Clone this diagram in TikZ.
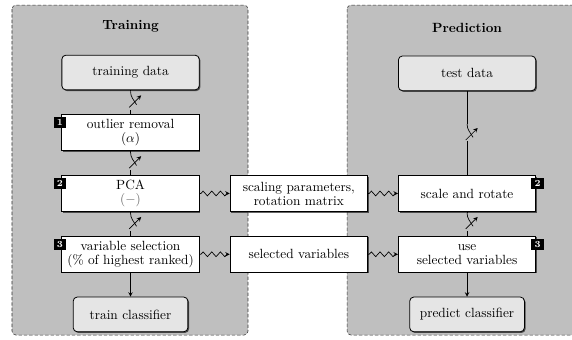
\documentclass[tikz,border=0pt]{standalone}
\usepackage{amsmath}
\usetikzlibrary{positioning, arrows, shadows, decorations.pathmorphing, backgrounds}
\tikzset{
    >=stealth, % small bold arrow heads
    every node/.style={font=\fontsize{10}{10.5}\selectfont},
    panel/.style={draw=black!80, dash pattern=on 2.5pt off 1.5pt, rounded corners=3pt, fill=gray!50},
    stepbox/.style={draw, line width=0.6pt, fill=white, minimum width=103pt, minimum height=27pt,
        inner sep=1pt, align=center,
        drop shadow={shadow xshift=0.9pt, shadow yshift=-0.9pt, fill=black, opacity=.6}},
    databox/.style={stepbox, rounded corners=3pt, fill=gray!20, minimum height=26pt},
    badge/.style={fill=black, text=white, font=\scriptsize\bfseries, inner sep=0pt,
        minimum width=9.5pt, minimum height=8.2pt},
    title/.style={font=\bfseries, inner sep=0pt},
    wiggle/.style={->, decorate, decoration={zigzag, amplitude=1.8pt, segment length=6.5pt,
        pre=lineto, pre length=1pt, post=lineto, post length=2pt}},
    lever/.pic={
        \draw (0,0) to[out=-90,in=120] (4.5pt,-10pt);
        \draw[->] (-1pt,-12pt) -- (8pt,-3pt);
    },
}

\begin{document}
\begin{tikzpicture}[line width=0.5pt]
    \clip (-97.9pt,54.4pt) rectangle (331.1pt,-199.9pt);

    % training column
    \node[databox] (trd) {training data};
    \node[stepbox, below=18pt of trd] (olr) {outlier removal\\($\alpha$)};
    \node[stepbox, below=18pt of olr] (pca) {PCA\\{\color{black!60}($-$)}};
    \node[stepbox, below=18pt of pca] (vs) {variable selection\\(\% of highest ranked)};
    \node[databox, minimum width=86pt, below=18pt of vs] (tc) {train classifier};
    \node[title, above=17pt of trd] (ttr) {Training};

    % shared results
    \node[stepbox, right=22.6pt of pca] (sp) {scaling parameters,\\rotation matrix};
    \node[stepbox, right=22.6pt of vs] (sv) {selected variables};

    % prediction column
    \node[stepbox, right=22.6pt of sp] (sr) {scale and rotate};
    \node[stepbox, right=22.6pt of sv] (usv) {use\\selected variables};
    \node[databox, above=63pt of sr] (tsd) {test data};
    \node[databox, minimum width=86pt, below=18pt of usv] (pc) {predict classifier};
    \node[title, above=17pt of tsd] (tpr) {Prediction};

    % step numbers
    \node[badge] (b1) at ([xshift=-1.1pt,yshift=-6.4pt]olr.north west) {1};
    \node[badge] (b2) at ([xshift=-1.1pt,yshift=-6.4pt]pca.north west) {2};
    \node[badge] (b3) at ([xshift=-1.1pt,yshift=-6.4pt]vs.north west) {3};
    \node[badge] (b4) at ([xshift=1.1pt,yshift=-6.4pt]sr.north east) {2};
    \node[badge] (b5) at ([xshift=1.1pt,yshift=-6.4pt]usv.north east) {3};

    \draw (trd.south) -- ++(0,-0.8pt) pic{lever} (olr.north) -- ++(0,3.5pt);
    \draw (olr.south) -- ++(0,-0.8pt) pic{lever} (pca.north) -- ++(0,3.5pt);
    \draw (pca.south) -- ++(0,-0.8pt) pic{lever} (vs.north) -- ++(0,3.5pt);
    \draw[->] (vs) -- (tc);

    \draw (tsd.south) -- ++(0,-24.7pt) pic{lever} (sr.north) -- ++(0,25.5pt);
    \draw (sr.south) -- ++(0,-0.8pt) pic{lever} (usv.north) -- ++(0,3.5pt);
    \draw[->] (usv) -- (pc);

    \draw[wiggle] (pca) -- (sp);
    \draw[wiggle] (sp) -- (sr);
    \draw[wiggle] (vs) -- (sv);
    \draw[wiggle] (sv) -- (usv);

    \begin{scope}[on background layer]
        \draw[panel] (-88.9pt,50.6pt) rectangle (88.1pt,-196.9pt);
        \draw[panel] (162.4pt,50.6pt) rectangle (339.4pt,-196.9pt);
    \end{scope}
\end{tikzpicture}
\end{document}
